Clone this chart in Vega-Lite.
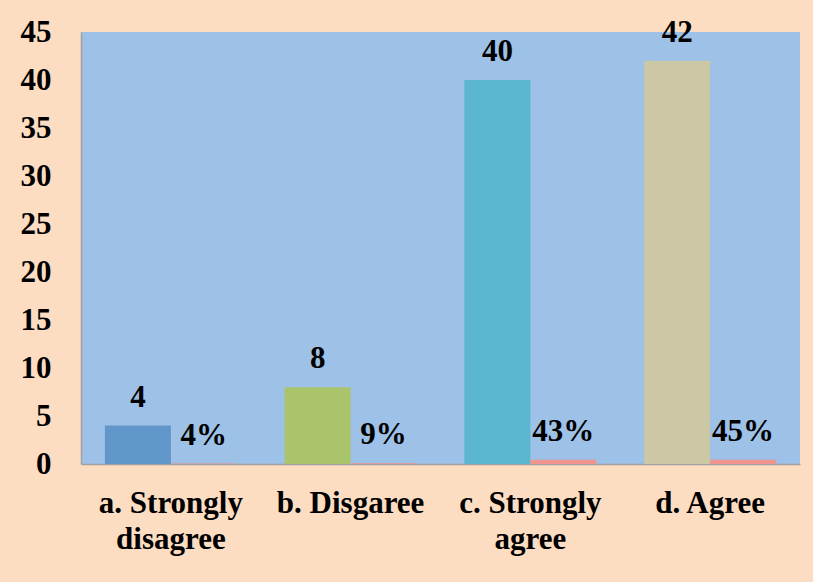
{
  "$schema": "https://vega.github.io/schema/vega-lite/v6.json",
  "autosize": {"type": "none"},
  "width": 719,
  "height": 432,
  "padding": {"left": 81, "top": 32, "right": 13, "bottom": 118},
  "background": "#FCDDC2",
  "config": {
    "view": {"fill": "#9EC1E8", "stroke": null},
    "font": "Liberation Serif"
  },
  "data": {
    "values": [
      {"category": "a. Strongly|disagree", "series": "count", "value": 4, "label": "4"},
      {"category": "a. Strongly|disagree", "series": "pct", "value": 0.04, "label": "4%"},
      {"category": "b. Disgaree", "series": "count", "value": 8, "label": "8"},
      {"category": "b. Disgaree", "series": "pct", "value": 0.09, "label": "9%"},
      {"category": "c. Strongly|agree", "series": "count", "value": 40, "label": "40"},
      {"category": "c. Strongly|agree", "series": "pct", "value": 0.43, "label": "43%"},
      {"category": "d. Agree", "series": "count", "value": 42, "label": "42"},
      {"category": "d. Agree", "series": "pct", "value": 0.45, "label": "45%"}
    ]
  },
  "encoding": {
    "x": {
      "field": "category",
      "type": "nominal",
      "sort": null,
      "scale": {"paddingInner": 0.266, "paddingOuter": 0.133},
      "axis": {
        "title": null,
        "labelAngle": 0,
        "labelExpr": "split(datum.label, '|')",
        "labelFont": "Liberation Serif",
        "labelFontWeight": "bold",
        "labelFontSize": 31,
        "labelColor": "#000000",
        "labelLineHeight": 36,
        "labelPadding": 24,
        "labelBaseline": "top",
        "labelDx": 12,
        "ticks": false,
        "domainColor": "#A0A0A0",
        "domainWidth": 1.5
      }
    },
    "xOffset": {"field": "series", "type": "nominal", "sort": ["count", "pct"], "scale": {"paddingInner": 0, "paddingOuter": 0}},
    "y": {
      "field": "value",
      "type": "quantitative",
      "scale": {"domain": [0, 45], "nice": false},
      "axis": {
        "title": null,
        "values": [0, 5, 10, 15, 20, 25, 30, 35, 40, 45],
        "grid": false,
        "ticks": false,
        "labelFont": "Liberation Serif",
        "labelFontWeight": "bold",
        "labelFontSize": 31,
        "labelColor": "#000000",
        "labelPadding": 30,
        "labelBaseline": "middle",
        "domainColor": "#A0A0A0",
        "domainWidth": 1.5
      }
    }
  },
  "layer": [
    {
      "mark": {"type": "bar"},
      "encoding": {
        "color": {
          "condition": {"test": "datum.series == 'pct'", "value": "#F09590"},
          "field": "category",
          "type": "nominal",
          "sort": null,
          "scale": {"range": ["#6096C9", "#A9C46B", "#5AB7CF", "#CCC7A4"]},
          "legend": null
        }
      }
    },
    {
      "mark": {"type": "text", "baseline": "alphabetic", "dy": -19, "font": "Liberation Serif", "fontWeight": "bold", "fontSize": 31, "color": "#000000"},
      "encoding": {"text": {"field": "label"}}
    }
  ]
}
